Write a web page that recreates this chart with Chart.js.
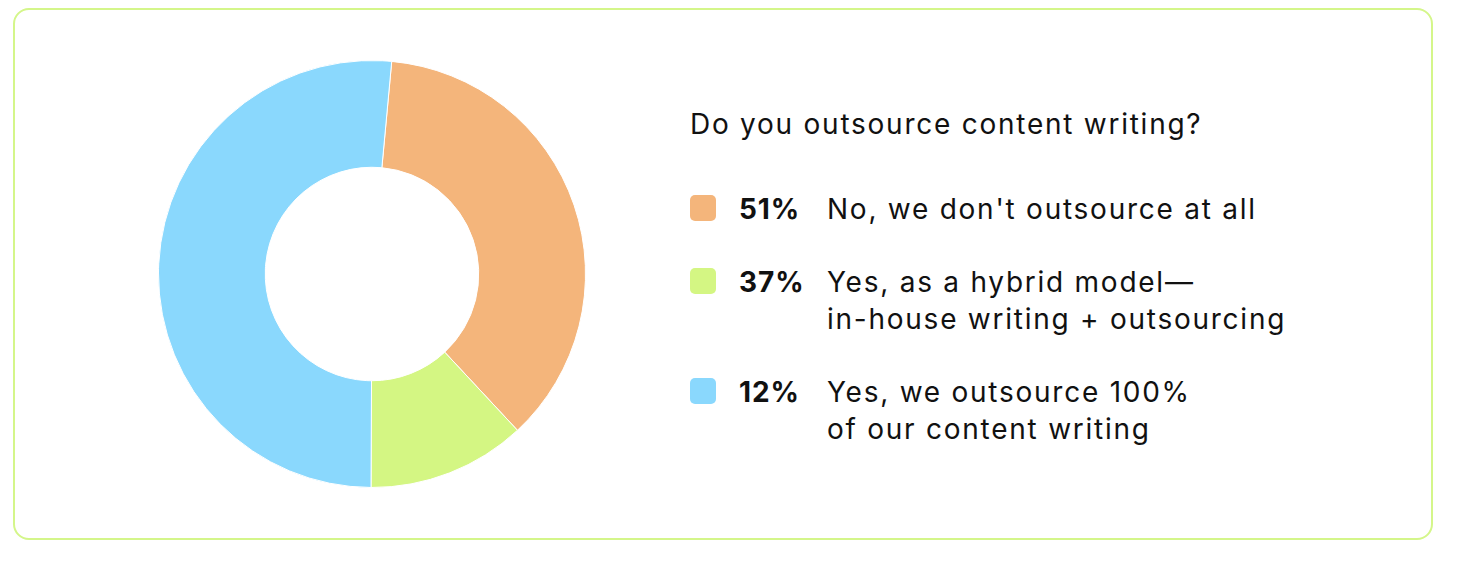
<!DOCTYPE html>
<html>
<head>
<meta charset="utf-8">
<script src="https://cdn.jsdelivr.net/npm/chart.js@4"></script>
<style>
  html, body { margin: 0; padding: 0; background: #fff; }
  body { width: 1460px; height: 572px; position: relative; font-family: Inter, "Noto Sans", sans-serif; color: #111; }
  .card {
    position: absolute; left: 13px; top: 8px; width: 1416px; height: 528px;
    border: 2.5px solid #d4f68a; border-radius: 16px;
  }
  #donutWrap { position: absolute; left: 158px; top: 60px; width: 428px; height: 428px; }
  .legend { position: absolute; left: 690px; top: 106px; letter-spacing: 1.75px; }
  .legend h3 { margin: 0 0 48px 0; font-size: 28px; font-weight: 400; line-height: 37px; }
  .row { display: flex; align-items: flex-start; font-size: 28px; line-height: 37px; margin-bottom: 36px; }
  .sw { width: 26px; height: 26px; border-radius: 5px; margin-top: 4px; flex: none; }
  .pct { font-weight: 700; width: 88px; margin-left: 23px; flex: none; letter-spacing: 0.9px; }
</style>
</head>
<body>
<div class="card"></div>
<div id="donutWrap"><canvas id="donut"></canvas></div>
<div class="legend" id="legend"><h3>Do you outsource content writing?</h3></div>

<script>
// slice sizes as drawn (orange, green, blue)
const sliceValues = [36.6, 12, 51.4];
const colors = ["#f4b57b", "#d4f683", "#8ad8fd"];
// legend text
const pctLabels = ["51%", "37%", "12%"];
const categories = [
  "No, we don't outsource at all",
  "Yes, as a hybrid model—<br>in-house writing + outsourcing",
  "Yes, we outsource 100%<br>of our content writing"
];

const legend = document.getElementById("legend");
categories.forEach((cat, i) => {
  const row = document.createElement("div");
  row.className = "row";
  row.innerHTML =
    '<div class="sw" style="background:' + colors[i] + '"></div>' +
    '<div class="pct">' + pctLabels[i] + '</div>' +
    '<div class="txt">' + cat + '</div>';
  legend.appendChild(row);
});

new Chart(document.getElementById("donut"), {
  type: "doughnut",
  data: {
    labels: categories.map((c) => c.replace("<br>", " ")),
    datasets: [
      {
        data: sliceValues,
        backgroundColor: colors,
        borderColor: "#ffffff",
        borderWidth: 1,
        hoverOffset: 0,
      },
    ],
  },
  options: {
    responsive: true,
    maintainAspectRatio: false,
    animation: false,
    cutout: "50%",
    rotation: 5.3,
    layout: { padding: 0 },
    plugins: {
      legend: { display: false },
      tooltip: { enabled: false },
    },
  },
});
</script>
</body>
</html>
